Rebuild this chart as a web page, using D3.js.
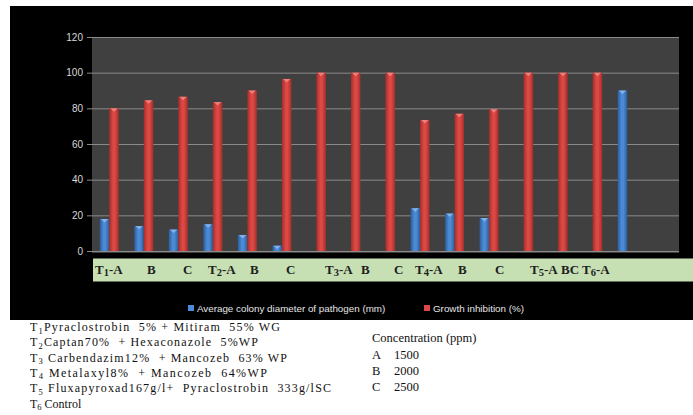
<!DOCTYPE html>
<html>
<head>
<meta charset="utf-8">
<script src="https://cdn.jsdelivr.net/npm/d3@7"></script>
<style>
  html, body { margin: 0; padding: 0; background: #fff; }
  svg { display: block; }
</style>
</head>
<body>
<svg id="chart" width="693" height="415"></svg>
<script>
// ---- data ----
const categories = ["T1-A", "T1-B", "T1-C", "T2-A", "T2-B", "T2-C", "T3-A", "T3-B",
                    "T3-C", "T4-A", "T4-B", "T4-C", "T5-A", "T5-B", "T5-C", "T6-A"];
const colonyDiameter   = [18, 14, 12, 15, 9, 3, 0, 0, 0, 24, 21, 18.5, 0, 0, 0, 90];
const growthInhibition = [80, 84.5, 86.5, 83.5, 90, 96.5, 100, 100, 100, 73.5, 77, 79.5, 100, 100, 100, 0];
const seriesNames = ["Average colony diameter of pathogen (mm)", "Growth inhibition (%)"];
const yTicks = [0, 20, 40, 60, 80, 100, 120];
const stripLabels = ["T1-A", "B", "C", "T2-A", "B", "C", "T3-A", "B", "C",
                     "T4-A", "B", "C", "T5-A", "BC", "T6-A"];
const treatmentNo = ["1", "2", "3", "4", "5", "6"];
const treatmentText = [
  "Pyraclostrobin  5% + Mitiram  55% WG",
  "Captan70%  + Hexaconazole  5%WP",
  " Carbendazim12%  + Mancozeb  63% WP",
  " Metalaxyl8%  + Mancozeb  64%WP",
  " Fluxapyroxad167g/l+  Pyraclostrobin  333g/lSC",
  " Control"
];
const concTitle = "Concentration (ppm)";
const concCodes = ["A", "B", "C"];
const concValues = ["1500", "2000", "2500"];

// ---- layout ----
const svg = d3.select("#chart");
const plot = { left: 92, right: 679, top: 37, bottom: 251 };
const colors = {
  blue: { edge: "#2c5d9c", mid: "#4b8bd6", cap: "#8cb8ee" },
  red:  { edge: "#a52e2a", mid: "#dc4844", cap: "#f08a86" }
};
// x positions of the treatment strip labels
const stripX = [95, 147, 183, 208, 250, 286, 325, 361, 394, 415, 458, 495, 530, 561, 582];
// widths of the treatment key lines
const keyWidths = [250, 228, 257, 237, 301, null];

svg.append("rect").attr("width", 693).attr("height", 415).attr("fill", "#fff");
// dark chart frame
svg.append("rect").attr("x", 10).attr("y", 6).attr("width", 683).attr("height", 314).attr("fill", "#000");

const defs = svg.append("defs");
Object.entries(colors).forEach(([k, c]) => {
  const g = defs.append("linearGradient").attr("id", "grad-" + k)
    .attr("x1", "0%").attr("x2", "100%").attr("y1", "0%").attr("y2", "0%");
  g.append("stop").attr("offset", "0%").attr("stop-color", c.edge);
  g.append("stop").attr("offset", "40%").attr("stop-color", c.mid);
  g.append("stop").attr("offset", "60%").attr("stop-color", c.mid);
  g.append("stop").attr("offset", "100%").attr("stop-color", c.edge);
});

// scales (one trailing empty slot after the last category)
const x = d3.scaleBand()
  .domain(d3.range(categories.length + 1))
  .range([plot.left, plot.right]);
const inner = d3.scaleBand()
  .domain([0, 1])
  .range([0, x.step()])
  .paddingOuter(0.82);
const y = d3.scaleLinear().domain([0, 120]).range([plot.bottom, plot.top]);

// plot area
svg.append("rect")
  .attr("x", plot.left).attr("y", plot.top)
  .attr("width", plot.right - plot.left).attr("height", plot.bottom - plot.top + 2)
  .attr("fill", "#404040");

// y axis with gridlines
const yAxis = d3.axisLeft(y).tickValues(yTicks).tickSizeOuter(0)
  .tickSizeInner(-(plot.right - plot.left)).tickPadding(9);
const gy = svg.append("g").attr("transform", `translate(${plot.left},0)`).call(yAxis);
gy.select(".domain").remove();
gy.selectAll(".tick line").attr("x1", -5).attr("stroke", "#8a8a8a").attr("stroke-width", 1);
gy.selectAll(".tick text")
  .attr("fill", "#d9d9d9")
  .style("font-family", "'Liberation Sans', Arial, sans-serif")
  .style("font-size", "10px");

// bars
const series = [
  { values: colonyDiameter, color: "blue" },
  { values: growthInhibition, color: "red" }
];
series.forEach((s, si) => {
  const g = svg.append("g");
  const rows = categories.map((c, i) => ({ i, v: s.values[i] })).filter(d => d.v > 0);
  g.selectAll("rect.bar").data(rows).join("rect")
    .attr("class", "bar")
    .attr("x", d => x(d.i) + inner(si))
    .attr("y", d => y(d.v))
    .attr("width", inner.bandwidth())
    .attr("height", d => y(0) - y(d.v))
    .attr("fill", `url(#grad-${s.color})`);
  // bevelled top
  g.selectAll("path.cap").data(rows).join("path")
    .attr("class", "cap")
    .attr("d", d => {
      const x0 = x(d.i) + inner(si), w = inner.bandwidth(), y0 = y(d.v);
      return `M${x0 + 1},${y0} L${x0 + w - 1},${y0} L${x0 + w / 2},${y0 + 3.5} Z`;
    })
    .attr("fill", colors[s.color].cap)
    .attr("opacity", 0.85);
});

// treatment strip under the axis
svg.append("rect")
  .attr("x", 93).attr("y", 258.5).attr("width", 600).attr("height", 23)
  .attr("fill", "#c6e0b4");
const strip = svg.append("g")
  .style("font-family", "'Liberation Serif', 'Times New Roman', serif")
  .style("font-weight", "bold")
  .style("font-size", "13px")
  .attr("fill", "#1e1e1e");
stripLabels.forEach((lab, i) => {
  const t = strip.append("text").attr("x", stripX[i]).attr("y", 274);
  const m = lab.match(/^T(\d)(-.*)$/);
  if (m) {
    t.append("tspan").text("T");
    t.append("tspan").attr("dy", 2).style("font-size", "10.5px").text(m[1]);
    t.append("tspan").attr("dy", -2).text(m[2]);
  } else {
    t.text(lab);
  }
});

// legend
const legend = svg.append("g")
  .style("font-family", "'Liberation Sans', Arial, sans-serif")
  .style("font-size", "9.8px")
  .attr("fill", "#e6e6e6");
const legendX = [188, 424];
series.forEach((s, si) => {
  legend.append("rect")
    .attr("x", legendX[si]).attr("y", 305).attr("width", 6).attr("height", 6)
    .attr("fill", colors[s.color].mid);
  legend.append("text")
    .attr("x", legendX[si] + 9).attr("y", 311.5)
    .text(seriesNames[si]);
});

// treatment key
const key = svg.append("g")
  .style("font-family", "'Liberation Serif', 'Times New Roman', serif")
  .style("font-size", "12px")
  .attr("fill", "#111");
treatmentText.forEach((txt, i) => {
  const t = key.append("text")
    .attr("x", 30).attr("y", 331 + i * 15.3)
    .attr("xml:space", "preserve");
  if (keyWidths[i]) t.attr("textLength", keyWidths[i]).attr("lengthAdjust", "spacing");
  t.append("tspan").text("T");
  t.append("tspan").attr("dy", 2.5).style("font-size", "8.5px").text(treatmentNo[i]);
  t.append("tspan").attr("dy", -2.5).text(txt);
});

// concentration key
const conc = svg.append("g")
  .style("font-family", "'Liberation Serif', 'Times New Roman', serif")
  .style("font-size", "12.5px")
  .attr("fill", "#111");
conc.append("text").attr("x", 372).attr("y", 342).text(concTitle);
concCodes.forEach((c, i) => {
  conc.append("text").attr("x", 372).attr("y", 358.5 + i * 16).text(c);
  conc.append("text").attr("x", 394).attr("y", 358.5 + i * 16).text(concValues[i]);
});
</script>
</body>
</html>
